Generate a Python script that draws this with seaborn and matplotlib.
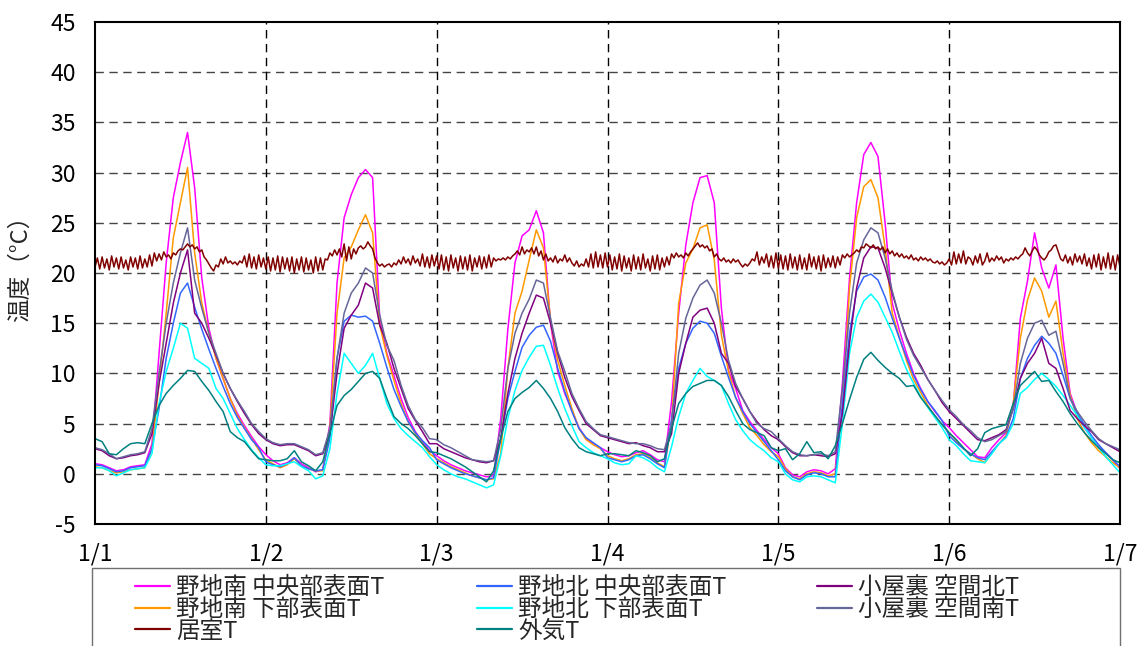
import numpy as np
import pandas as pd
import matplotlib
matplotlib.use("Agg")
import matplotlib.pyplot as plt
from matplotlib.lines import Line2D
from matplotlib.patches import Rectangle
import seaborn as sns

# ---------------- data (hourly samples, 1/1 0:00 .. 1/7 0:00) ----------------
hours = list(range(145))

roof_s_center = [  # 野地南 中央部表面T
    1.0, 0.9, 0.6, 0.3, 0.4, 0.7, 0.8, 0.9, 3.0, 12.0, 21.0, 27.5, 31.0, 34.0, 28.5, 19.5, 14.5, 11.5, 9.5, 7.5, 6.0, 4.8, 3.7, 2.7,
    1.9, 1.3, 0.9, 1.1, 1.6, 1.0, 0.6, 0.2, 0.4, 5.0, 19.0, 25.5, 27.8, 29.5, 30.3, 29.5, 15.5, 12.0, 9.8, 7.5, 5.6, 4.2, 3.2, 2.3,
    1.8, 1.3, 0.9, 0.6, 0.3, 0.1, -0.1, -0.3, -0.2, 5.5, 14.4, 21.0, 23.7, 24.3, 26.2, 24.0, 15.0, 10.2, 8.0, 6.3, 4.6, 3.5, 3.0, 2.6,
    2.2, 1.9, 1.7, 1.8, 2.1, 2.3, 1.9, 1.4, 1.2, 7.2, 16.0, 22.8, 27.0, 29.5, 29.7, 27.0, 16.5, 10.3, 8.5, 6.3, 5.2, 4.3, 3.4, 2.6,
    2.0, 0.6, -0.1, -0.3, 0.2, 0.4, 0.3, 0.0, 0.5, 9.0, 19.5, 27.0, 31.8, 33.0, 31.6, 25.0, 17.0, 14.3, 12.0, 10.0, 8.5, 7.2, 6.2, 5.3,
    4.6, 3.8, 3.1, 2.4, 1.7, 1.6, 2.6, 3.4, 4.1, 6.8, 15.5, 19.2, 24.0, 20.5, 18.5, 20.8, 13.5, 8.0, 6.0, 4.6, 3.6, 2.7, 2.1, 1.4,
    0.5]

roof_s_lower = [  # 野地南 下部表面T
    0.7, 0.6, 0.3, 0.1, 0.2, 0.4, 0.5, 0.6, 2.5, 9.0, 16.0, 23.5, 27.0, 30.5, 22.0, 17.0, 14.0, 11.5, 9.5, 7.5, 5.8, 4.6, 3.5, 2.4,
    1.4, 1.0, 0.6, 0.9, 1.5, 0.8, 0.5, 0.3, 0.3, 4.5, 16.0, 21.5, 22.6, 24.3, 25.8, 24.0, 14.8, 11.8, 9.3, 7.0, 5.2, 4.0, 3.0, 2.0,
    1.5, 1.1, 0.7, 0.4, 0.1, -0.2, -0.4, -0.6, -0.5, 2.0, 10.5, 16.0, 18.2, 21.3, 24.3, 22.5, 15.2, 11.3, 8.8, 6.5, 4.5, 3.4, 2.9, 2.5,
    1.8, 1.5, 1.3, 1.5, 1.9, 2.0, 1.6, 1.1, 0.7, 5.0, 17.0, 21.0, 22.4, 24.5, 24.8, 21.3, 13.8, 10.2, 7.6, 6.0, 4.6, 3.8, 2.9, 2.2,
    1.7, 0.5, -0.3, -0.5, 0.0, 0.2, 0.1, -0.2, 0.0, 6.5, 18.5, 25.5, 28.6, 29.3, 27.5, 22.5, 16.0, 13.6, 11.3, 9.4, 8.1, 6.8, 5.7, 4.9,
    4.1, 3.3, 2.5, 2.0, 1.5, 1.1, 2.1, 3.0, 3.8, 7.0, 13.5, 17.3, 19.5, 18.2, 15.6, 17.2, 12.0, 7.8, 5.5, 4.1, 3.1, 2.3, 1.7, 1.1,
    0.6]

roof_n_center = [  # 野地北 中央部表面T
    0.9, 0.8, 0.5, 0.2, 0.3, 0.6, 0.7, 0.8, 2.5, 6.5, 11.5, 15.0, 18.0, 19.0, 16.6, 14.4, 12.4, 10.5, 8.7, 7.0, 5.6, 4.5, 3.4, 2.6,
    1.2, 0.9, 0.7, 1.0, 1.6, 0.8, 0.5, 0.3, 0.4, 3.5, 11.5, 15.2, 15.8, 15.6, 15.7, 15.2, 13.0, 10.6, 8.4, 6.7, 5.2, 4.1, 3.3, 2.6,
    1.4, 1.0, 0.6, 0.3, 0.0, -0.2, -0.4, -0.6, -0.4, 3.5, 7.5, 10.2, 12.6, 13.8, 14.6, 14.8, 13.2, 10.5, 8.2, 6.2, 4.5, 3.6, 3.1, 2.6,
    1.6, 1.4, 1.2, 1.4, 1.8, 1.9, 1.5, 1.0, 0.6, 5.5, 10.5, 13.0, 14.5, 15.2, 15.0, 14.0, 11.7, 9.6, 7.6, 6.2, 5.0, 4.1, 3.2, 2.3,
    1.4, 0.3, -0.3, -0.6, -0.1, 0.1, 0.0, -0.3, -0.3, 7.0, 14.0, 18.2, 19.6, 19.9, 19.3, 17.6, 15.5, 13.5, 11.6, 9.8, 8.4, 7.2, 6.3, 5.3,
    3.8, 3.1, 2.5, 2.0, 1.6, 1.4, 2.2, 3.0, 3.7, 5.5, 9.5, 11.5, 12.8, 13.7, 13.0, 12.0, 9.8, 7.5, 6.0, 4.9, 3.8, 2.9, 2.1, 1.4,
    0.7]

roof_n_lower = [  # 野地北 下部表面T
    0.6, 0.6, 0.3, -0.2, 0.1, 0.4, 0.5, 0.6, 2.0, 7.0, 10.2, 12.5, 15.0, 14.5, 11.5, 11.0, 10.5, 8.5, 7.5, 6.0, 4.5, 3.4, 2.4, 1.6,
    0.9, 0.8, 0.8, 1.0, 1.2, 0.7, 0.3, -0.5, -0.2, 2.5, 8.0, 12.0, 11.0, 10.0, 10.8, 12.0, 9.5, 7.0, 5.5, 4.5, 3.8, 3.2, 2.6, 1.7,
    0.9, 0.4, 0.0, -0.3, -0.5, -0.8, -1.1, -1.4, -1.1, 1.8, 5.5, 8.3, 10.3, 11.6, 12.7, 12.8, 10.8, 8.5, 6.5, 4.8, 3.2, 2.6, 2.1, 1.8,
    1.5, 1.1, 0.9, 1.0, 1.8, 1.6, 1.2, 0.6, 0.2, 2.7, 5.7, 8.0, 9.3, 10.5, 9.7, 9.3, 8.8, 7.0, 5.4, 4.3, 3.4, 2.8, 2.3, 1.6,
    1.2, 0.0, -0.6, -0.8, -0.3, -0.2, -0.3, -0.6, -0.9, 5.0, 12.0, 15.6, 17.2, 17.9, 17.1, 15.6, 14.1, 12.2, 10.4, 9.0, 7.7, 6.6, 5.6, 4.6,
    3.4, 2.8, 2.0, 1.3, 1.2, 1.1, 2.0, 3.0, 3.6, 5.0, 8.0, 8.6, 9.4, 10.0, 9.4, 8.7, 7.8, 6.8, 5.8, 4.6, 3.6, 2.6, 1.7, 0.9,
    0.1]

attic_n = [  # 小屋裏 空間北T
    2.5, 2.3, 1.8, 1.5, 1.6, 1.8, 1.9, 2.1, 4.0, 9.0, 13.0, 17.0, 20.0, 22.3, 16.0, 15.0, 13.5, 11.8, 10.0, 8.5, 7.2, 6.0, 4.9, 4.0,
    3.4, 3.0, 2.8, 2.9, 2.9, 2.6, 2.3, 1.8, 2.0, 4.0, 10.0, 14.5, 15.8, 16.8, 19.0, 18.5, 14.8, 13.0, 10.5, 8.5, 6.5, 5.3, 4.2, 3.0,
    3.0, 2.5, 2.2, 1.9, 1.6, 1.4, 1.2, 1.1, 1.3, 3.5, 8.0, 11.5, 14.0, 16.0, 17.8, 17.5, 15.0, 12.0, 9.6, 7.7, 6.3, 5.0, 4.4, 3.8,
    3.6, 3.4, 3.2, 3.0, 3.1, 2.8, 2.6, 2.2, 2.2, 4.0, 10.0, 13.0, 15.6, 16.3, 16.5, 15.0, 12.0, 11.0, 8.7, 7.5, 6.2, 5.2, 4.4, 3.8,
    3.4, 2.7, 2.1, 1.8, 1.8, 1.9, 1.8, 1.7, 2.0, 6.0, 13.0, 18.5, 21.5, 22.6, 22.5, 20.5, 18.0, 15.6, 13.6, 12.0, 10.8, 9.4, 8.3, 7.1,
    6.2, 5.5, 4.8, 4.1, 3.4, 3.3, 3.6, 3.9, 4.4, 6.5, 9.5, 11.0, 12.0, 13.5, 11.0, 10.5, 8.5, 6.3, 5.5, 4.8, 4.2, 3.4, 3.0, 2.6,
    2.2]

attic_s = [  # 小屋裏 空間南T
    2.6, 2.4, 2.0, 1.5, 1.7, 1.9, 2.0, 2.2, 4.5, 10.0, 15.0, 19.0, 22.0, 24.5, 19.3, 16.5, 14.0, 12.0, 10.0, 8.5, 7.3, 6.2, 5.0, 4.2,
    3.5, 3.1, 2.9, 3.0, 3.0, 2.7, 2.4, 1.9, 2.1, 4.5, 11.5, 16.0, 18.0, 19.0, 20.5, 20.0, 15.8, 12.8, 11.3, 8.8, 6.8, 5.4, 4.6, 3.5,
    3.4, 2.9, 2.6, 2.2, 1.8, 1.4, 1.3, 1.2, 1.3, 4.5, 10.5, 14.0, 16.0, 17.4, 19.3, 19.0, 15.5, 12.2, 10.2, 8.0, 6.5, 5.2, 4.5, 3.9,
    3.7, 3.5, 3.3, 3.1, 3.0, 3.0, 2.8, 2.5, 2.4, 5.0, 12.0, 15.5, 17.5, 18.8, 19.3, 18.0, 15.0, 11.3, 9.0, 7.5, 6.2, 5.0, 4.5, 4.2,
    3.5, 2.8, 2.2, 1.9, 1.8, 1.9, 2.0, 1.8, 2.2, 8.5, 16.0, 21.0, 23.3, 24.5, 24.0, 21.5, 18.2, 15.6, 13.4, 11.8, 10.6, 9.4, 8.3, 7.3,
    6.4, 5.7, 4.9, 4.3, 3.6, 3.2, 3.4, 3.8, 4.2, 6.5, 11.0, 13.5, 15.0, 15.3, 13.8, 14.2, 11.0, 7.5, 6.2, 5.2, 4.3, 3.5, 3.0, 2.7,
    2.4]

outdoor = [  # 外気T
    3.5, 3.2, 2.0, 1.9, 2.5, 3.0, 3.1, 3.0, 5.0, 6.8, 8.0, 8.8, 9.5, 10.3, 10.2, 9.2, 8.3, 7.2, 6.2, 4.2, 3.6, 3.2, 2.3, 1.5,
    1.4, 1.3, 1.3, 1.5, 2.3, 1.2, 0.8, 0.3, 1.2, 4.0, 6.8, 7.8, 8.4, 9.2, 10.0, 10.2, 9.5, 7.5, 5.7, 5.0, 4.5, 3.8, 3.0, 2.2,
    2.1, 1.8, 1.5, 1.1, 0.7, 0.2, -0.3, -0.8, 0.3, 3.5, 6.2, 7.5, 8.1, 8.6, 9.3, 8.5, 7.5, 6.2, 4.6, 3.5, 2.6, 2.2, 2.0, 1.8,
    2.0, 2.0, 1.9, 1.8, 2.3, 2.1, 1.8, 1.2, 1.5, 4.5, 7.0, 8.0, 8.7, 9.0, 9.3, 9.3, 8.8, 7.7, 6.3, 5.0, 4.4, 4.1, 3.8, 2.6,
    2.3, 2.5, 1.4, 2.0, 3.2, 2.1, 2.2, 1.5, 2.8, 5.0, 7.4, 9.6, 11.4, 12.1, 11.3, 10.6, 10.0, 9.5, 8.7, 8.8, 7.6, 6.7, 5.8, 4.9,
    4.1, 3.4, 2.6, 1.8, 2.5, 4.1, 4.5, 4.7, 4.9, 7.0, 8.8, 9.5, 10.2, 9.2, 9.3, 8.2, 7.2, 6.0, 5.0, 4.1, 3.3, 2.6, 2.0, 1.4,
    1.1]

# 居室T : 20-minute samples (3 per hour)
room = [
    20.6, 21.5, 20.4, 21.6, 20.5, 21.4, 20.3, 21.7, 20.6, 21.5, 20.4, 21.6, 20.5, 21.3, 20.3, 21.6, 20.6, 21.5,
    20.4, 21.7, 20.5, 21.4, 20.6, 21.8, 20.7, 22.0, 21.2, 21.9, 21.3, 22.1, 21.6, 21.8, 21.4, 22.0, 21.8, 22.2,
    22.4, 22.3, 22.6, 22.9, 22.6, 22.8, 22.4, 22.6, 22.1, 22.3, 21.6, 21.3, 20.9, 20.5, 20.2, 20.8, 20.6, 21.4,
    20.9, 21.6, 21.0, 21.2, 20.9, 21.1, 20.8, 21.2, 21.0, 21.7, 20.6, 21.9, 20.5, 21.6, 20.4, 21.8, 20.6, 21.5,
    20.4, 21.6, 20.2, 21.5, 20.3, 21.7, 20.1, 21.6, 20.4, 21.5, 20.2, 21.6, 20.0, 21.4, 20.3, 21.6, 20.1, 21.5,
    20.3, 21.3, 20.0, 21.6, 20.2, 21.5, 20.3, 21.4, 21.3, 22.0, 21.7, 22.3, 21.8, 22.4, 21.6, 22.9, 21.2, 22.6,
    21.4, 22.4, 21.9, 22.5, 22.7, 22.4, 22.6, 23.1, 22.7, 22.4, 21.5, 21.0, 20.7, 20.9, 20.6, 20.8, 20.9, 20.6,
    21.0, 20.8, 21.3, 20.9, 21.6, 21.0, 21.4, 20.8, 21.7, 21.0, 21.4, 20.7, 21.9, 20.6, 21.6, 20.5, 21.8, 20.7,
    21.7, 20.4, 21.8, 20.3, 21.6, 20.2, 21.8, 20.5, 21.5, 20.2, 21.7, 20.4, 21.6, 20.3, 21.8, 20.2, 21.5, 20.6,
    21.7, 20.4, 21.6, 20.5, 21.8, 20.6, 21.5, 21.2, 21.4, 21.3, 21.5, 21.3, 21.6, 21.4, 21.7, 21.9, 22.2, 21.8,
    22.6, 21.9, 22.3, 22.1, 22.5, 21.9, 22.6, 21.7, 22.2, 21.3, 21.9, 21.2, 21.5, 21.1, 21.7, 21.0, 21.4, 21.2,
    21.8, 21.1, 21.5, 21.0, 20.7, 21.2, 20.6, 20.9, 20.7, 21.4, 20.6, 21.9, 20.5, 22.1, 20.6, 21.8, 20.5, 22.0,
    20.6, 21.8, 20.3, 21.6, 20.4, 21.9, 20.2, 21.7, 20.5, 21.5, 20.2, 21.8, 20.4, 21.6, 20.3, 21.9, 20.5, 21.4,
    20.2, 21.7, 20.4, 21.8, 20.3, 21.5, 20.6, 21.6, 20.8, 21.9, 21.5, 22.0, 21.6, 21.8, 21.5, 22.0, 21.7, 22.1,
    22.4, 22.7, 23.0, 22.6, 22.8, 22.5, 22.7, 22.2, 22.4, 21.6, 21.9, 21.4, 21.2, 21.5, 21.1, 21.3, 21.0, 21.4,
    21.1, 21.3, 20.9, 20.6, 20.9, 20.7, 21.0, 21.4, 21.2, 22.1, 20.8, 21.6, 21.0, 21.9, 20.6, 21.7, 20.5, 22.0,
    20.5, 21.8, 20.4, 21.7, 20.3, 21.9, 20.5, 21.6, 20.3, 21.8, 20.4, 21.5, 20.3, 21.9, 20.6, 21.6, 20.4, 21.7,
    20.2, 21.8, 20.5, 21.5, 20.6, 21.7, 20.5, 21.6, 20.8, 21.8, 21.5, 21.9, 21.6, 21.8, 22.0, 22.3, 22.1, 22.6,
    22.5, 22.9, 22.7, 22.5, 22.8, 22.4, 22.6, 22.3, 22.6, 22.0, 22.4, 21.9, 22.2, 21.7, 22.0, 21.6, 21.9, 21.5,
    21.7, 21.4, 21.8, 21.3, 21.5, 21.2, 21.6, 21.3, 21.5, 21.2, 21.4, 21.1, 21.0, 21.2, 20.9, 21.1, 20.8, 21.0,
    21.4, 20.8, 22.1, 20.9, 21.9, 21.0, 22.2, 20.9, 21.6, 21.4, 20.8, 21.7, 21.0, 21.9, 20.8, 21.2, 22.0, 21.1,
    21.5, 21.2, 21.7, 21.3, 21.6, 21.0, 21.4, 21.2, 21.5, 21.3, 21.6, 21.4, 21.7, 21.9, 22.5, 22.0, 21.7, 22.2,
    22.6, 22.3, 21.8, 21.5, 21.3, 21.6, 22.1, 22.3, 22.7, 22.8, 22.1, 21.4, 21.2, 21.8, 21.0, 21.6, 20.8, 21.9,
    21.1, 21.7, 20.9, 21.9, 20.7, 21.5, 20.4, 21.8, 20.6, 21.9, 20.3, 21.6, 20.5, 22.0, 20.4, 21.7, 20.3, 21.8,
    20.6]

labels = ["野地南 中央部表面T", "野地南 下部表面T", "居室T",
          "野地北 中央部表面T", "野地北 下部表面T", "外気T",
          "小屋裏 空間北T", "小屋裏 空間南T"]
colors = {"野地南 中央部表面T": "#FF00FF", "野地南 下部表面T": "#FF9900", "居室T": "#800000",
          "野地北 中央部表面T": "#3366FF", "野地北 下部表面T": "#00FFFF", "外気T": "#008080",
          "小屋裏 空間北T": "#800080", "小屋裏 空間南T": "#666699"}
x_tick_labels = ["1/1", "1/2", "1/3", "1/4", "1/5", "1/6", "1/7"]
y_ticks = [-5, 0, 5, 10, 15, 20, 25, 30, 35, 40, 45]

# ---------------- build frames ----------------
hourly = {"野地南 中央部表面T": roof_s_center, "野地南 下部表面T": roof_s_lower,
          "野地北 中央部表面T": roof_n_center, "野地北 下部表面T": roof_n_lower,
          "小屋裏 空間北T": attic_n, "小屋裏 空間南T": attic_s, "外気T": outdoor}
frames = []
for name, vals in hourly.items():
    frames.append(pd.DataFrame({"day": np.array(hours) / 24.0, "temp": vals, "series": name}))
df = pd.concat(frames, ignore_index=True)
room_df = pd.DataFrame({"day": np.arange(len(room)) / 72.0, "temp": room})

# ---------------- plot ----------------
sns.set_theme(style="white")
plt.rcParams["font.family"] = ["Noto Sans CJK JP", "DejaVu Sans"]
plt.rcParams["axes.unicode_minus"] = False

fig = plt.figure(figsize=(11.42, 6.46), dpi=100)
W, H = 1142, 646
ax = fig.add_axes([95 / W, 1 - 524 / H, (1120 - 95) / W, (524 - 22) / H])

order = ["野地南 中央部表面T", "野地南 下部表面T", "野地北 中央部表面T", "野地北 下部表面T",
         "小屋裏 空間北T", "小屋裏 空間南T", "外気T"]
sns.lineplot(data=df, x="day", y="temp", hue="series", hue_order=order,
             palette=[colors[n] for n in order], linewidth=1.1, legend=False,
             estimator=None, sort=False, ax=ax)
sns.lineplot(data=room_df, x="day", y="temp", color=colors["居室T"], linewidth=1.1,
             estimator=None, sort=False, ax=ax)

ax.set_xlim(0, 6)
ax.set_ylim(-5, 45)
ax.set_xticks(range(7))
ax.set_xticklabels(x_tick_labels)
ax.set_yticks(y_ticks)
ax.set_xlabel("")
ax.set_ylabel("温度（°C）", fontsize=17)
ax.yaxis.set_label_coords(-0.062, 0.52)
ax.tick_params(axis="both", length=0, labelsize=16.5, colors="black")
ax.tick_params(axis="y", pad=14)
ax.tick_params(axis="x", pad=13)

ax.grid(False)
for yv in y_ticks[1:-1]:
    ax.axhline(yv, color="#444444", lw=1.0, ls=(0, (6, 4)), zorder=0.5)
for xv in range(1, 6):
    ax.axvline(xv, color="black", lw=1.0, ls=(0, (6, 4)), zorder=0.5)
for sp in ax.spines.values():
    sp.set_visible(True)
    sp.set_color("black")
    sp.set_linewidth(1.5)

# legend frame (extends past the bottom edge, as in the reference)
fig.patches.append(Rectangle((92 / W, -0.05), (1120 - 92) / W, (646 - 568) / H + 0.05,
                             transform=fig.transFigure, fill=False, edgecolor="#707070",
                             linewidth=1.0))

col_x = [135, 477, 817]
groups = [labels[0:3], labels[3:6], labels[6:8]]
for cx, grp in zip(col_x, groups):
    handles = [Line2D([], [], color=colors[n], lw=1.6) for n in grp]
    fig.legend(handles, grp, loc="upper left", bbox_to_anchor=(cx / W, 1 - 576 / H),
               frameon=False, fontsize=17, handlelength=1.5, handletextpad=0.25,
               labelspacing=-0.05, borderpad=0.0, borderaxespad=0.0)

fig.savefig("out.png", dpi=100)
